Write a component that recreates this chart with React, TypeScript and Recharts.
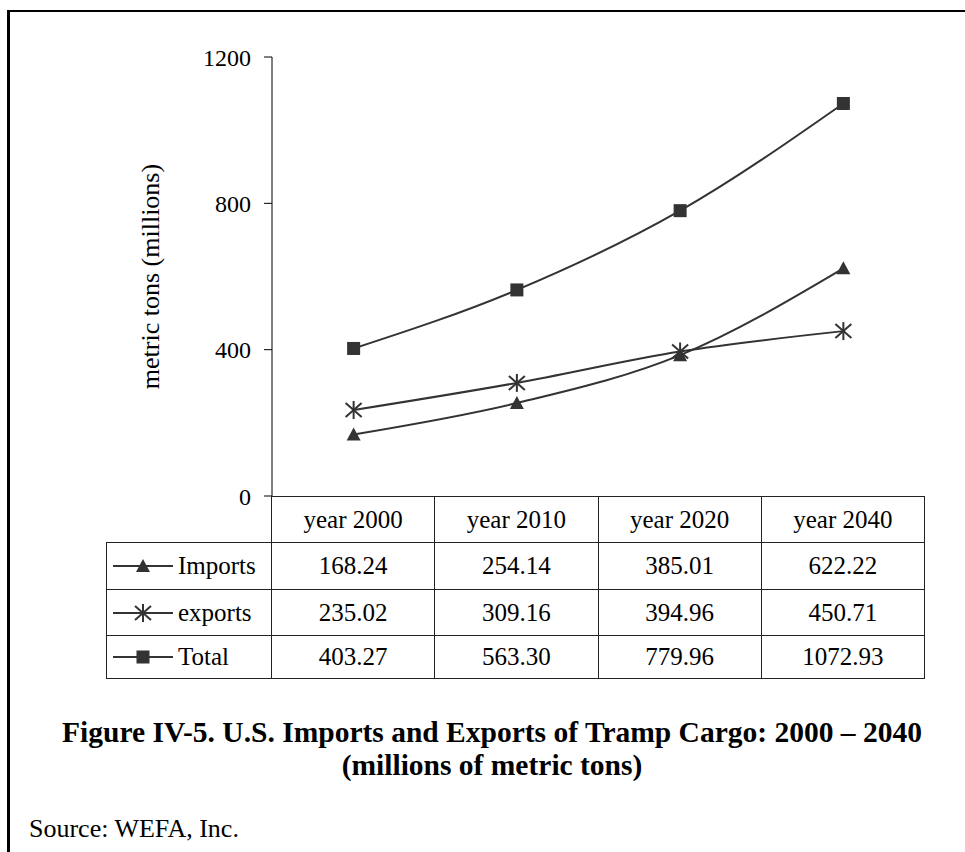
import { LineChart, Line, XAxis, YAxis } from "recharts";

const FONT = '"Liberation Serif", "Times New Roman", Times, serif';
const INK = "#333";

const categories = ["year 2000", "year 2010", "year 2020", "year 2040"];
const imports = [168.24, 254.14, 385.01, 622.22];
const exportsTons = [235.02, 309.16, 394.96, 450.71];
const total = [403.27, 563.3, 779.96, 1072.93];
const yTicks = [0, 400, 800, 1200];

const series = [
  { key: "imports", name: "Imports", shape: "triangle", values: imports },
  { key: "exports", name: "exports", shape: "star", values: exportsTons },
  { key: "total", name: "Total", shape: "square", values: total },
];

const data = categories.map((c, i) => ({
  i,
  category: c,
  imports: imports[i],
  exports: exportsTons[i],
  total: total[i],
}));

const Marker = ({ shape, cx, cy }: { shape: string; cx: number; cy: number }) => {
  if (shape === "triangle") {
    return <path d={`M${cx},${cy - 7} L${cx + 7},${cy + 6} L${cx - 7},${cy + 6} Z`} fill={INK} />;
  }
  if (shape === "square") {
    return <rect x={cx - 6.5} y={cy - 6.5} width={13} height={13} fill={INK} />;
  }
  // asterisk style star: vertical stroke plus an X
  return (
    <g stroke={INK} strokeWidth={2}>
      <line x1={cx} y1={cy - 9} x2={cx} y2={cy + 9} />
      <line x1={cx - 8} y1={cy - 7} x2={cx + 8} y2={cy + 7} />
      <line x1={cx - 8} y1={cy + 7} x2={cx + 8} y2={cy - 7} />
    </g>
  );
};

const colWidths = [166, 163.25, 163.25, 163.25, 163.25];
const rowHeights = [47, 47, 46, 43];
const line = "1px solid #222";

const DataTable = () => {
  const lefts = colWidths.map((_, i) => colWidths.slice(0, i).reduce((a, b) => a + b, 0));
  const tops = rowHeights.map((_, i) => rowHeights.slice(0, i).reduce((a, b) => a + b, 0));
  const cells: JSX.Element[] = [];
  const base = (r: number, c: number) => ({
    position: "absolute" as const,
    left: lefts[c],
    top: tops[r],
    width: colWidths[c],
    height: rowHeights[r],
    boxSizing: "border-box" as const,
    borderRight: line,
    borderBottom: line,
    display: "flex",
    alignItems: "center",
    justifyContent: "center",
  });
  cells.push(<div key="corner" style={base(0, 0)} />);
  categories.forEach((c, j) => {
    cells.push(
      <div key={`h${j}`} style={{ ...base(0, j + 1), borderTop: line }}>
        {c}
      </div>
    );
  });
  series.forEach((s, r) => {
    cells.push(
      <div
        key={`l${r}`}
        style={{ ...base(r + 1, 0), borderLeft: line, justifyContent: "flex-start", paddingLeft: 6 }}
      >
        <svg width={60} height={24} style={{ flex: "none" }}>
          <line x1={0} y1={12} x2={60} y2={12} stroke={INK} strokeWidth={2} />
          <Marker shape={s.shape} cx={30} cy={12} />
        </svg>
        <span style={{ marginLeft: 5 }}>{s.name}</span>
      </div>
    );
    s.values.forEach((v, j) => {
      cells.push(
        <div key={`v${r}-${j}`} style={base(r + 1, j + 1)}>
          {v.toFixed(2)}
        </div>
      );
    });
  });
  return (
    <div style={{ position: "absolute", left: 106, top: 496, fontSize: 25, color: "#000", fontFamily: FONT }}>
      {cells}
    </div>
  );
};

export default function App() {
  return (
    <div
      style={{
        position: "absolute",
        left: 0,
        top: 0,
        width: 965,
        height: 852,
        background: "#fff",
        fontFamily: FONT,
        overflow: "hidden",
      }}
    >
      <div
        style={{
          position: "absolute",
          left: 7,
          top: 10,
          width: 958,
          height: 842,
          borderLeft: "3px solid #000",
          borderTop: "2px solid #000",
          boxSizing: "border-box",
        }}
      />
      <div style={{ position: "absolute", left: 0, top: 0 }}>
        <LineChart width={965} height={520} data={data} margin={{ top: 57, right: 40, bottom: 24, left: 192 }}>
          <XAxis type="number" dataKey="i" domain={[-0.5, 3.5]} hide />
          <YAxis
            width={80}
            domain={[0, 1200]}
            ticks={yTicks}
            interval={0}
            axisLine={{ stroke: "#000", strokeWidth: 1 }}
            tickLine={{ stroke: "#000", strokeWidth: 1 }}
            tickSize={8}
            tickMargin={13}
            tick={{ fontSize: 24, fill: "#000", fontFamily: FONT }}
            label={{
              value: "metric tons (millions)",
              angle: -90,
              position: "left",
              offset: 42,
              style: { textAnchor: "middle", fontSize: 26, fill: "#000", fontFamily: FONT },
            }}
          />
          {series.map((s) => (
            <Line
              key={s.key}
              type="monotone"
              dataKey={s.key}
              stroke={INK}
              strokeWidth={2}
              isAnimationActive={false}
              dot={(p: any) => <Marker key={`${s.key}-${p.index}`} shape={s.shape} cx={p.cx} cy={p.cy} />}
              activeDot={false}
            />
          ))}
        </LineChart>
      </div>
      <DataTable />
      <svg width={965} height={852} style={{ position: "absolute", left: 0, top: 0, pointerEvents: "none" }}>
        <text x={492} y={742} textAnchor="middle" fontSize={29.5} fontWeight="bold" fontFamily={FONT} fill="#000">
          Figure IV-5. U.S. Imports and Exports of Tramp Cargo: 2000 – 2040
        </text>
        <text x={492} y={775} textAnchor="middle" fontSize={29.5} fontWeight="bold" fontFamily={FONT} fill="#000">
          (millions of metric tons)
        </text>
        <text x={29} y={837} fontSize={26} fontFamily={FONT} fill="#000">
          Source: WEFA, Inc.
        </text>
      </svg>
    </div>
  );
}
